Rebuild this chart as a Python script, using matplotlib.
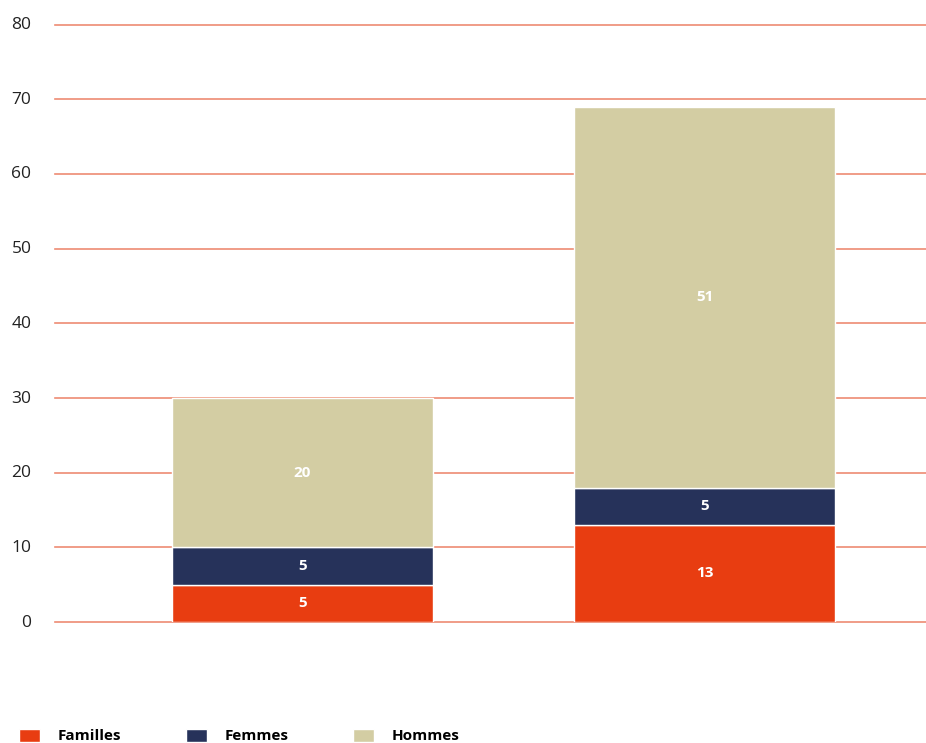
import matplotlib
matplotlib.use("Agg")
import matplotlib.pyplot as plt
import matplotlib.transforms as mtransforms
import numpy as np

plt.rcParams['font.family'] = ['Open Sans', 'DejaVu Sans']

# Data
groups = ["Groupe 1", "Groupe 2"]
familles = [5, 13]
femmes = [5, 5]
hommes = [20, 51]
series_names = ["Familles", "Femmes", "Hommes"]
colors = ["#E83D11", "#26325A", "#D3CDA3"]
yticks = [0, 10, 20, 30, 40, 50, 60, 70, 80]

fig = plt.figure(figsize=(9.26, 7.43), dpi=100)
ax = fig.add_axes([55 / 926, 121 / 743, 871 / 926, 597.5 / 743])

x = np.arange(len(groups))
width = 0.649
bottom = np.zeros(len(groups))
containers = []
for vals, name, col in zip([familles, femmes, hommes], series_names, colors):
    bars = ax.bar(x, vals, width, bottom=bottom, color=col, edgecolor="white",
                  linewidth=1.0, label=name, zorder=3)
    containers.append(bars)
    for xi, b, v in zip(x, bottom, vals):
        ax.text(xi, b + v / 2, f"{v}", ha="center", va="center", color="white",
                fontsize=11, fontweight="bold", zorder=4)
    bottom = bottom + np.array(vals)

ax.set_ylim(0, 80)
ax.set_xlim(-0.6157, 1.551)
ax.set_yticks(yticks)
ax.set_yticklabels([str(t) for t in yticks], fontsize=12.5, color="#222222")
ax.tick_params(axis="y", length=0, pad=17)
ax.tick_params(axis="x", length=0, labelbottom=False)
shift = mtransforms.ScaledTranslation(0, 1 / 72, fig.dpi_scale_trans)
for lbl in ax.get_yticklabels():
    lbl.set_transform(lbl.get_transform() + shift)
for s in ax.spines.values():
    s.set_visible(False)
ax.yaxis.grid(True, color="#EE8B73", linewidth=1.2, zorder=0)
ax.set_axisbelow(True)
for gl in ax.get_ygridlines():
    gl.set_clip_on(False)

fs = 11
fpx = fs * 100 / 72
fig.legend(handles=containers, labels=series_names, loc="center left",
           bbox_to_anchor=(19 / 926, 7 / 743), ncol=3, frameon=False,
           borderpad=0, borderaxespad=0, handlelength=21 / fpx,
           handleheight=14 / fpx, handletextpad=18 / fpx,
           columnspacing=64 / fpx, prop={"size": fs, "weight": "bold"})

fig.savefig("out.png", dpi=100)
